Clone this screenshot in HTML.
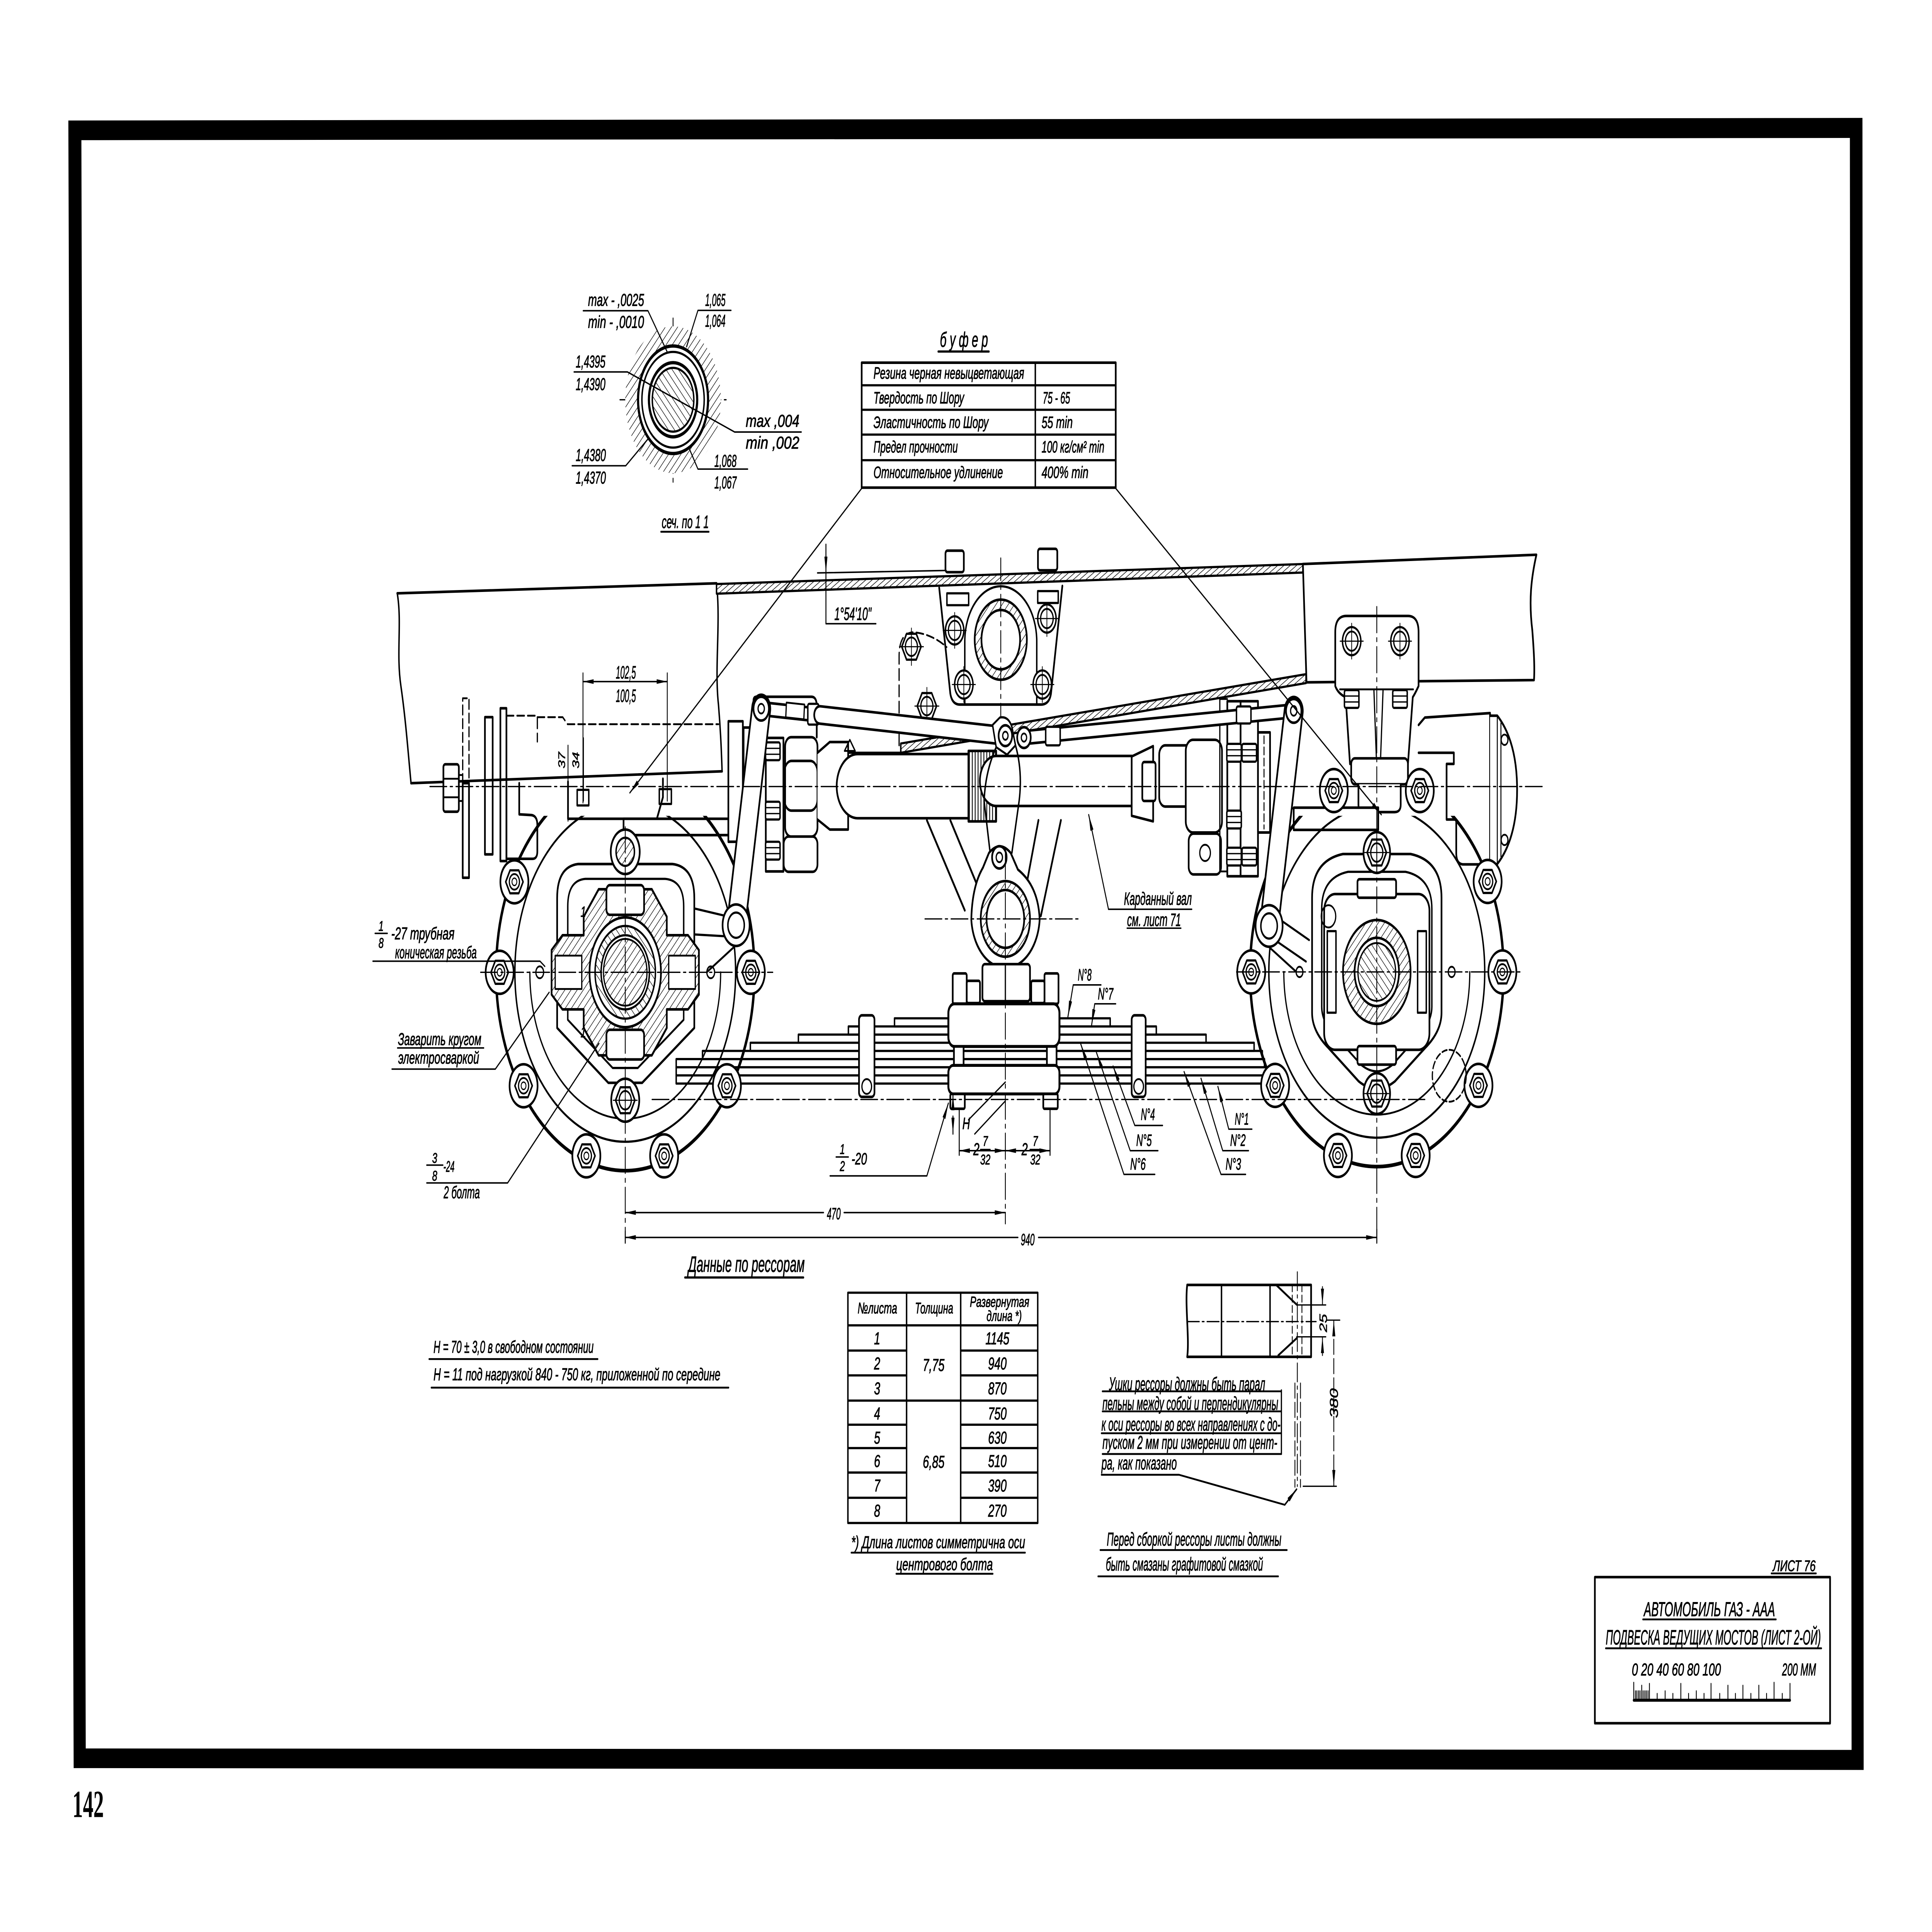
<!DOCTYPE html>
<html><head><meta charset="utf-8"><title>ГАЗ-ААА подвеска</title>
<style>
html,body{margin:0;padding:0;width:100%;height:100%;overflow:hidden;background:#fff}
svg{display:block;width:100vw;height:100vh}
.t{font-family:"Liberation Sans Narrow","Liberation Sans","DejaVu Sans Condensed",sans-serif;font-style:italic;fill:#000;stroke:#000;stroke-width:1.2}
.n{font-family:"Liberation Serif",serif;font-weight:bold;fill:#000;stroke:none}
</style></head><body>
<svg xmlns="http://www.w3.org/2000/svg" viewBox="0 0 8000 5210" preserveAspectRatio="none">
<defs>
<pattern id="h" width="18" height="18" patternUnits="userSpaceOnUse" patternTransform="rotate(45)"><rect width="18" height="18" fill="#fff"/><line x1="0" y1="0" x2="0" y2="18" stroke="#000" stroke-width="3.5"/></pattern>
<pattern id="h2" width="18" height="18" patternUnits="userSpaceOnUse" patternTransform="rotate(-45)"><rect width="18" height="18" fill="#fff"/><line x1="0" y1="0" x2="0" y2="18" stroke="#000" stroke-width="3.5"/></pattern>
<pattern id="hs" width="13" height="13" patternUnits="userSpaceOnUse" patternTransform="rotate(60)"><rect width="13" height="13" fill="#fff"/><line x1="0" y1="0" x2="0" y2="13" stroke="#000" stroke-width="3.5"/></pattern>
<pattern id="vs" width="12" height="12" patternUnits="userSpaceOnUse"><rect width="12" height="12" fill="#fff"/><line x1="6" y1="0" x2="6" y2="12" stroke="#000" stroke-width="3.5"/></pattern>
<marker id="ar" viewBox="0 0 10 10" refX="10" refY="5" markerWidth="44" markerHeight="14" markerUnits="userSpaceOnUse" orient="auto-start-reverse" preserveAspectRatio="none"><path d="M0,0.5 L10,5 L0,9.5 Z" fill="#000"/></marker>
<g id="lug" stroke="#000" fill="none"><circle r="58" fill="#fff" stroke-width="7"/><polygon points="36,0 18,31 -18,31 -36,0 -18,-31 18,-31" stroke-width="6"/><circle r="21" stroke-width="5"/><circle r="10" stroke-width="3.5"/></g>
<g id="bolt" stroke="#000" fill="none"><circle r="38" fill="#fff" stroke-width="6"/><circle r="26" stroke-width="5"/><path d="M-48,0 L48,0 M0,-48 L0,48" stroke-width="3"/></g>
<g id="hn" stroke="#000" fill="#fff"><rect x="-30" y="-24" width="60" height="48" rx="6" stroke-width="6"/><path d="M-30,-8 L30,-8 M-30,8 L30,8" stroke-width="3.5" fill="none"/></g>
<g id="hex" stroke="#000" fill="#fff"><polygon points="40,0 20,35 -20,35 -40,0 -20,-35 20,-35" stroke-width="6"/><circle r="25" stroke-width="5" fill="none"/><path d="M-50,0 L50,0 M0,-50 L0,50" stroke-width="3" fill="none"/></g>
<clipPath id="cw"><rect x="0" y="2200" width="8000" height="3000"/></clipPath>
</defs>

<rect width="8000" height="5210" fill="#fff"/>
<!-- heavy sheet frame -->
<path fill="#000" fill-rule="evenodd" d="M283,325 L7712,318 L7717,4773 L305,4768 Z M337,378 L7660,372 L7667,4719 L355,4715 Z"/>

<g fill="none" stroke="#000" stroke-width="7" stroke-linejoin="round" stroke-linecap="round">

<!-- ===== chassis rail ===== -->
<path d="M1645,1600 L2967,1573"/>
<path d="M1645,1600 C1665,1680 1640,1760 1660,1850 C1680,1940 1690,2030 1702,2112" stroke-width="6"/>
<path d="M1702,2112 L2990,2080"/>
<path d="M2967,1573 C2985,1680 2958,1800 2975,1900 C2985,1980 2988,2040 2990,2080" stroke-width="6"/>
<polygon points="2967,1575 5395,1521 5395,1544 2967,1601" fill="url(#hs)" stroke-width="6"/>
<path d="M3385,1545 L3950,1538" stroke-width="4"/>
<path d="M5395,1521 L6362,1496 C6340,1560 6330,1620 6345,1700 C6352,1760 6355,1800 6352,1834 L5410,1840 Z"/>
<polygon points="3730,2005 5408,1818 5408,1842 3730,2030" fill="url(#hs)" stroke-width="6"/>
<path d="M3060,2030 L3730,2030" stroke-width="6"/>

<!-- centre frame bracket -->
<path d="M3889,1585 L3935,1870 Q3942,1900 3975,1900 L4310,1900 Q4345,1900 4352,1870 L4399,1580" fill="#fff"/>
<path d="M3995,1897 L3995,1730 A149,149 0 0 1 4293,1730 L4293,1897" stroke-width="6"/>
<circle cx="4144" cy="1725" r="108" fill="url(#h)"/>
<circle cx="4144" cy="1725" r="80" fill="#fff"/>
<use href="#bolt" x="3953" y="1700"/><use href="#bolt" x="4335" y="1668"/>
<use href="#bolt" x="3991" y="1846"/><use href="#bolt" x="4316" y="1846"/>
<rect x="3915" y="1485" width="76" height="58" rx="8" fill="#fff"/>
<rect x="4298" y="1480" width="80" height="58" rx="8" fill="#fff"/>
<rect x="3921" y="1600" width="90" height="32" fill="#fff" stroke-width="6"/>
<rect x="4297" y="1594" width="85" height="32" fill="#fff" stroke-width="6"/>
<path d="M3723,2010 L3723,1770 Q3723,1705 3785,1705 Q3860,1710 3920,1745" stroke-dasharray="30 14" stroke-width="5"/>
<use href="#hex" x="3774" y="1744"/>
<use href="#hex" x="3838" y="1904"/>
<path d="M4144,1505 L4144,1950" stroke-width="3.5" stroke-dasharray="60 14 10 14"/>

<!-- ===== left axle housing ===== -->
<path d="M1916,2112 L1916,1883 L1942,1883 L1942,2112" stroke-dasharray="25 12" stroke-width="5"/>
<rect x="1916" y="2112" width="26" height="255"/>
<rect x="1836" y="2061" width="64" height="128" rx="8" fill="#fff"/>
<path d="M1836,2100 L1900,2100 M1836,2150 L1900,2150" stroke-width="5"/>
<rect x="1900" y="2090" width="16" height="70" stroke-width="5"/>
<rect x="2008" y="1934" width="32" height="370"/>
<rect x="2072" y="1910" width="25" height="412"/>
<path d="M2097,2112 L2097,2316 L2205,2316 Q2225,2316 2225,2296 L2225,2225 Q2225,2200 2200,2198 L2150,2196 L2150,2112"/>
<path d="M2097,1930 L2225,1930 L2225,2000 M2225,1934 L2330,1934 L2350,1953 L2975,1953" stroke-dasharray="30 14" stroke-width="5"/>
<path d="M2352,2108 L2352,2208 L2720,2208 L2745,2150 L2745,2100"/>
<rect x="2390" y="2130" width="48" height="42" stroke-width="6"/>
<rect x="2730" y="2128" width="50" height="40" stroke-width="6"/>
<rect x="2582" y="2208" width="434" height="44" fill="#fff"/>

<!-- left UJ / flange -->
<rect x="3016" y="1945" width="60" height="325" fill="#fff"/>
<rect x="3079" y="1962" width="38" height="292" fill="#fff"/>
<path d="M3120,1988 L3120,1890 Q3120,1879 3132,1879 L3360,1879 Q3382,1879 3382,1905 L3382,1988" fill="#fff"/>
<rect x="3171" y="1990" width="73" height="360" fill="#fff"/>
<use href="#hn" x="3200" y="2026"/><use href="#hn" x="3200" y="2186"/><use href="#hn" x="3200" y="2294"/>
<rect x="3251" y="1988" width="134" height="268" rx="25" fill="#fff"/>
<rect x="3248" y="2052" width="137" height="134" rx="30"/>
<rect x="3245" y="2256" width="140" height="95" rx="20" fill="#fff"/>
<path d="M3385,2030 L3436,2001 L3512,2001 L3512,2237 L3436,2237 L3385,2210" fill="#fff"/>
<rect x="3493" y="2071" width="58" height="102" rx="8" fill="#fff"/>
<path d="M3519,1995 l-22,30 l44,0 z" stroke-width="5"/>
<!-- shaft -->
<line x1="3551" y1="2120" x2="4010" y2="2120" stroke-width="180"/>
<line x1="3551" y1="2120" x2="4010" y2="2120" stroke="#fff" stroke-width="166"/>
<rect x="4010" y="2025" width="115" height="190" fill="url(#vs)"/>
<line x1="4125" y1="2106" x2="4686" y2="2106" stroke-width="142"/>
<line x1="4125" y1="2106" x2="4686" y2="2106" stroke="#fff" stroke-width="128"/>
<!-- right UJ -->
<path d="M4686,2040 L4686,2200 L4775,2215 L4775,2012 Z" fill="#fff"/>
<rect x="4730" y="2055" width="55" height="105" rx="8" fill="#fff"/>
<rect x="4800" y="2010" width="150" height="165" rx="25" fill="#fff"/>
<rect x="4910" y="1995" width="150" height="250" rx="30" fill="#fff"/>
<rect x="4922" y="2248" width="134" height="110" rx="20" fill="#fff"/>
<circle cx="4990" cy="2300" r="22" stroke-width="5"/>
<rect x="5082" y="1891" width="55" height="472" fill="#fff"/>
<rect x="5137" y="1891" width="72" height="472" fill="#fff"/>
<use href="#hn" x="5110" y="2030"/><use href="#hn" x="5110" y="2210"/><use href="#hn" x="5110" y="2310"/>
<use href="#hn" x="5173" y="2030"/><use href="#hn" x="5173" y="2310"/>
<rect x="5209" y="1975" width="50" height="270" fill="#fff"/>
<path d="M5234,1985 L5234,2235" stroke-width="4" stroke-dasharray="20 10"/>
<path d="M5051,1885 L5051,2350 L5082,2350 M5051,1885 L5082,1885" stroke-width="5"/>

<!-- right housing -->
<path d="M5874,1955 L5900,1935 L6170,1923 L6170,2331 L6060,2331 Q6030,2331 6030,2300 L6030,2210 L5990,2210 L5990,2060 L6020,2060 L6020,2030 L5874,2030" fill="#fff"/>
<path d="M6170,1930 L6200,1930 Q6282,2000 6282,2130 Q6282,2260 6200,2330 L6170,2330" fill="#fff"/>
<path d="M6200,1935 L6200,2325 M6215,1950 L6215,2310" stroke-width="4"/>
<circle cx="6230" cy="1995" r="14" stroke-width="5"/><circle cx="6230" cy="2265" r="14" stroke-width="5"/>
<!-- spring hanger -->
<path d="M5529,1705 Q5529,1661 5575,1661 L5830,1661 Q5874,1661 5874,1705 L5874,1850 Q5860,1870 5850,1880 L5830,2060 L5590,2060 L5572,1880 Q5540,1870 5529,1850 Z" fill="#fff"/>
<path d="M5548,1859 L5852,1859 M5689,1859 L5700,2057 M5727,1859 L5716,2057" stroke-width="5"/>
<use href="#bolt" x="5597" y="1729"/>
<use href="#bolt" x="5797" y="1729"/>
<use href="#hn" x="5597" y="1885"/><use href="#hn" x="5797" y="1885"/>
<rect x="5595" y="2045" width="235" height="70" rx="15" fill="#fff"/>
<path d="M5625,2115 L5625,2170 Q5625,2190 5650,2190 L5775,2190 Q5800,2190 5800,2170 L5800,2115" fill="#fff"/>
<rect x="5357" y="2178" width="350" height="60" fill="#fff"/>
<path d="M5320,2155 L5320,2180 L5357,2180" stroke-width="5"/>

<!-- ===== torque rods ===== -->
<line x1="3180" y1="1913" x2="3390" y2="1928" stroke-width="42"/>
<line x1="3180" y1="1913" x2="3390" y2="1928" stroke="#fff" stroke-width="28"/>
<rect x="3255" y="1897" width="75" height="40" fill="#fff" stroke-width="5" transform="rotate(4 3290 1917)"/>
<rect x="3345" y="1898" width="45" height="56" rx="6" fill="#fff" stroke-width="6"/>
<line x1="3395" y1="1928" x2="4130" y2="1982" stroke-width="54"/>
<line x1="3395" y1="1928" x2="4130" y2="1982" stroke="#fff" stroke-width="40"/>
<line x1="4240" y1="1989" x2="5357" y2="1917" stroke-width="42"/>
<line x1="4240" y1="1989" x2="5357" y2="1917" stroke="#fff" stroke-width="28"/>
<rect x="4330" y="1960" width="60" height="50" rx="6" fill="#fff" stroke-width="6"/>
<rect x="5120" y="1905" width="60" height="46" rx="6" fill="#fff" stroke-width="6"/>
<path d="M4110,1955 L4140,1935 Q4175,1930 4190,1960 L4205,2010 L4170,2035 L4125,2015 Z" fill="#fff" stroke-width="6"/>
<circle cx="4163" cy="1984" r="28" fill="#fff"/><circle cx="4163" cy="1984" r="11" stroke-width="5"/>
<circle cx="4240" cy="1989" r="28" fill="#fff"/><circle cx="4240" cy="1989" r="11" stroke-width="5"/>
<path d="M4100,2300 L4075,2160 Q4080,2080 4125,2015 M4190,2300 L4220,2160 Q4235,2080 4205,2010" stroke-width="6"/>

<!-- ===== leaf spring ===== -->
<g fill="#fff" stroke-width="6">
<rect x="2800" y="2900" width="2454" height="22"/>
<rect x="2800" y="2878" width="2445" height="22"/>
<rect x="2800" y="2856" width="2436" height="22"/>
<rect x="2909" y="2834" width="2318" height="22"/>
<rect x="3107" y="2812" width="2086" height="22"/>
<rect x="3306" y="2790" width="1688" height="22"/>
<rect x="3513" y="2768" width="1275" height="22"/>
<rect x="3704" y="2746" width="893" height="22"/>
</g>
<rect x="3557" y="2738" width="64" height="220" rx="12" fill="#fff"/>
<circle cx="3589" cy="2930" r="20" stroke-width="5"/>
<rect x="4686" y="2738" width="58" height="220" rx="12" fill="#fff"/>
<circle cx="4715" cy="2930" r="20" stroke-width="5"/>

<!-- trunnion bracket -->
<path d="M3838,2212 L3995,2455 M3935,2212 L4045,2385 M4393,2212 L4310,2470 M4300,2212 L4255,2370"/>
<path d="M4022,2480 Q4025,2390 4070,2340 L4095,2300 Q4140,2265 4185,2300 L4215,2345 Q4300,2390 4305,2480 A142,142 0 0 1 4022,2480 Z" fill="#fff"/>
<circle cx="4163" cy="2478" r="102" fill="url(#h)"/>
<circle cx="4163" cy="2478" r="78" fill="#fff"/>
<circle cx="4138" cy="2312" r="30" fill="#fff"/><circle cx="4138" cy="2312" r="13" stroke-width="5"/>
<rect x="4068" y="2600" width="197" height="100" rx="10" fill="#fff"/>
<path d="M4163,2600 L4163,2700" stroke-width="5"/>
<rect x="3945" y="2625" width="58" height="82" rx="6" fill="#fff"/>
<rect x="4003" y="2645" width="55" height="60" rx="6" fill="#fff"/>
<rect x="4325" y="2625" width="58" height="82" rx="6" fill="#fff"/>
<rect x="4270" y="2645" width="55" height="60" rx="6" fill="#fff"/>
<rect x="3927" y="2707" width="460" height="115" rx="25" fill="#fff" stroke-width="8"/>
<rect x="3950" y="2822" width="40" height="51" fill="#fff"/>
<rect x="4335" y="2822" width="40" height="51" fill="#fff"/>
<rect x="3927" y="2873" width="460" height="77" rx="20" fill="#fff" stroke-width="8"/>
<rect x="3935" y="2950" width="60" height="40" rx="5" fill="#fff"/>
<rect x="4320" y="2950" width="60" height="40" rx="5" fill="#fff"/>

<!-- ===== wheels (brake drums) ===== -->
<g clip-path="url(#cw)">
<circle cx="2589" cy="2622" r="535" stroke-width="10"/>
<circle cx="2589" cy="2622" r="457" stroke-width="6"/>
<circle cx="5701" cy="2621" r="525" stroke-width="10"/>
<circle cx="5701" cy="2621" r="447" stroke-width="6"/>
</g>
<path d="M2194,2622 A395,395 0 0 0 2984,2622" stroke-width="5"/>
<path d="M5316,2621 A385,385 0 0 0 6086,2621" stroke-width="5"/>
<use href="#lug" x="3109" y="2622"/><use href="#lug" x="3010" y="2928"/><use href="#lug" x="2750" y="3117"/>
<use href="#lug" x="2428" y="3117"/><use href="#lug" x="2168" y="2928"/><use href="#lug" x="2069" y="2622"/>
<use href="#lug" x="2130" y="2378"/>
<use href="#lug" x="6221" y="2621"/><use href="#lug" x="6160" y="2377"/><use href="#lug" x="6122" y="2927"/>
<use href="#lug" x="5862" y="3116"/><use href="#lug" x="5540" y="3116"/><use href="#lug" x="5280" y="2927"/>
<use href="#lug" x="5181" y="2621"/><use href="#lug" x="5523" y="2132"/><use href="#lug" x="5879" y="2132"/>

<!-- left hub -->
<g transform="translate(2589,2622)">
<path d="M-282,-200 Q-282,-285 -195,-292 L195,-292 Q286,-285 286,-200 L286,150 L70,298 L-70,298 L-282,150 Z" fill="#fff"/>
<path d="M-238,-178 Q-238,-248 -165,-252 L165,-252 Q242,-248 242,-178 L242,128 L52,258 L-52,258 L-238,128 Z" stroke-width="6"/>
<circle cy="-325" r="60" fill="#fff"/>
<circle cy="-325" r="38" fill="url(#h)" stroke-width="6"/>
<circle cy="345" r="58" fill="#fff"/>
<use href="#hex" y="345"/>
<polygon points="-305,-60 -260,-100 -172,-100 -172,-150 -110,-224 110,-224 172,-150 172,-100 260,-100 305,-60 305,60 260,100 172,100 172,150 110,224 -110,224 -172,150 -172,100 -260,100 -305,60" fill="url(#h)"/>
<rect x="-78" y="-235" width="156" height="80" rx="14" fill="#fff"/>
<rect x="-78" y="155" width="156" height="80" rx="14" fill="#fff"/>
<rect x="-290" y="-45" width="110" height="90" fill="#fff" stroke-width="5"/>
<rect x="180" y="-45" width="110" height="90" fill="#fff" stroke-width="5"/>
<circle r="148" fill="#fff"/>
<circle r="125" fill="url(#h2)" stroke-width="6"/>
<circle r="100" fill="#fff" stroke-width="6"/>
<circle r="90" fill="url(#h)" stroke-width="5"/>
<circle cx="-354" r="16" stroke-width="5"/><circle cx="354" r="16" stroke-width="5"/>
<text class="t" x="-185" y="-150" font-size="40">1</text>
<text class="t" x="-185" y="175" font-size="40">1</text>
</g>

<!-- right hub -->
<g transform="translate(5701,2621)">
<path d="M-140,-318 L140,-318 Q268,-300 268,-200 L268,110 Q268,160 200,205 L75,295 Q0,335 -75,295 L-200,205 Q-268,160 -268,110 L-268,-200 Q-268,-300 -140,-318 Z" fill="#fff"/>
<path d="M-119,-270 L119,-270 Q228,-255 228,-170 L228,94 Q228,136 170,174 L64,251 Q0,285 -64,251 L-170,174 Q-228,136 -228,94 L-228,-170 Q-228,-255 -119,-270 Z" stroke-width="6"/>
<rect x="-218" y="-210" width="436" height="420" rx="45" fill="#fff"/>
<rect x="-205" y="-110" width="36" height="220" stroke-width="6"/>
<rect x="169" y="-110" width="36" height="220" stroke-width="6"/>
<rect x="-80" y="-250" width="160" height="50" rx="8" fill="#fff"/>
<rect x="-80" y="200" width="160" height="50" rx="8" fill="#fff"/>
<circle r="140" fill="url(#h)"/>
<circle r="92" fill="#fff"/>
<circle r="78" fill="url(#h2)" stroke-width="5"/>
<circle cy="-322" r="55" fill="#fff"/><use href="#hex" y="-322"/>
<circle cy="328" r="55" fill="#fff"/><use href="#hex" y="328"/>
<circle cx="-200" cy="-150" r="30" stroke-width="5"/>
<circle cx="300" cy="280" r="70" stroke-width="5" stroke-dasharray="20 10"/>
<circle cx="310" r="14" stroke-width="5"/><circle cx="-320" r="14" stroke-width="5"/>
</g>

<!-- ===== vertical links ===== -->
<line x1="3152" y1="1911" x2="3048" y2="2495" stroke-width="82"/>
<line x1="3152" y1="1911" x2="3048" y2="2495" stroke="#fff" stroke-width="68"/>
<path d="M3005,2470 L2876,2450 M3010,2525 L2876,2520 M3054,2545 L2926,2622" stroke-width="6"/>
<circle cx="3152" cy="1911" r="32" fill="#fff"/><circle cx="3152" cy="1911" r="13" stroke-width="5"/>
<circle cx="3048" cy="2495" r="56" fill="#fff"/><circle cx="3048" cy="2495" r="34" stroke-width="6"/>
<line x1="5357" y1="1917" x2="5255" y2="2497" stroke-width="82"/>
<line x1="5357" y1="1917" x2="5255" y2="2497" stroke="#fff" stroke-width="68"/>
<path d="M5300,2480 L5421,2535 M5290,2540 L5408,2593 M5240,2545 L5363,2618" stroke-width="6"/>
<circle cx="5357" cy="1917" r="32" fill="#fff"/><circle cx="5357" cy="1917" r="13" stroke-width="5"/>
<circle cx="5255" cy="2497" r="56" fill="#fff"/><circle cx="5255" cy="2497" r="34" stroke-width="6"/>

<!-- ===== centre lines ===== -->
<g stroke-width="3.5" stroke-dasharray="70 14 10 14">
<path d="M1780,2121 L6400,2121"/>
<path d="M1990,2622 L3200,2622"/>
<path d="M5120,2621 L6300,2621"/>
<path d="M2589,2230 L2589,3350"/>
<path d="M5701,1636 L5701,3350"/>
<path d="M4163,2300 L4163,3300"/>
<path d="M3830,2478 L4470,2478"/>
<path d="M2700,2965 L5900,2965"/>
<path d="M2787,858 L2787,1300"/>
<path d="M2567,1078 L3007,1078"/>
</g>

<!-- ===== dimensions / leaders ===== -->
<g stroke-width="4">
<path d="M3568,1317 L2608,2138" marker-end="url(#ar)"/>
<path d="M4620,1317 L5720,2197" marker-end="url(#ar)"/>
<path d="M2414,1815 L2414,2165 M2763,1815 L2763,2160" stroke-width="3.5"/>
<path d="M2414,1838 L2763,1838" marker-start="url(#ar)" marker-end="url(#ar)"/>
<path d="M2352,2010 L2352,2214 M2416,1990 L2416,2160" stroke-width="3.5"/>
<path d="M3420,1468 L3420,1545" marker-end="url(#ar)"/>
<path d="M3420,1545 L3420,1682 L3627,1682"/>
<path d="M1544,2592 L2236,2592 L2256,2606"/>
<path d="M1646,2826 L2003,2826"/>
<path d="M1623,2883 L2051,2883 L2274,2676"/>
<path d="M1767,3190 L2102,3190 L2480,2814"/>
<path d="M1767,3142 L1834,3142 M1553,2517 L1604,2517"/>
<path d="M3437,3171 L3838,3171 L3927,2975" marker-end="url(#ar)"/>
<path d="M3462,3120 L3513,3120"/>
<path d="M4590,2452 L4508,2197" marker-end="url(#ar)"/>
<path d="M4590,2452 L4935,2452 M4667,2503 L4890,2503"/>
<path d="M4444,2656 L4559,2656 M4444,2656 L4422,2742" marker-end="url(#ar)"/>
<path d="M4533,2707 L4620,2707 M4533,2707 L4520,2765" marker-end="url(#ar)"/>
<path d="M4699,3035 L4814,3035 M4699,3035 L4609,2875" marker-end="url(#ar)"/>
<path d="M4680,3103 L4795,3103 M4680,3103 L4540,2838" marker-end="url(#ar)"/>
<path d="M4654,3167 L4782,3167 M4654,3167 L4475,2815" marker-end="url(#ar)"/>
<path d="M5088,3045 L5184,3045 M5088,3045 L5043,2930" marker-end="url(#ar)"/>
<path d="M5063,3103 L5170,3103 M5063,3103 L4973,2908" marker-end="url(#ar)"/>
<path d="M5056,3167 L5158,3167 M5056,3167 L4903,2890" marker-end="url(#ar)"/>
<path d="M4010,3020 L4163,2918 M4036,3058 L4163,2969"/>
<path d="M3946,2990 L3946,2950" marker-end="url(#ar)"/>
<path d="M3946,3010 L3946,3058" marker-end="url(#ar)"/>
<path d="M3972,2990 L3972,3115 M4348,2990 L4348,3115"/>
<path d="M3972,3103 L4163,3103" marker-start="url(#ar)" marker-end="url(#ar)"/>
<path d="M4163,3103 L4348,3103" marker-start="url(#ar)" marker-end="url(#ar)"/>
<path d="M4060,3100 L4100,3100 M4265,3100 L4305,3100"/>
<path d="M2589,3270 L3410,3270" marker-start="url(#ar)"/>
<path d="M3495,3270 L4163,3270" marker-end="url(#ar)"/>
<path d="M2589,3337 L4215,3337" marker-start="url(#ar)"/>
<path d="M4300,3337 L5701,3337" marker-end="url(#ar)"/>
<path d="M2589,3320 L2589,3352 M5701,3315 L5701,3352"/>
</g>

<!-- ===== cross-section 1-1 ===== -->
<g transform="translate(2787,1078)">
<circle r="198" fill="url(#h)" stroke="none"/>
<circle r="145" fill="#fff" stroke-width="9"/>
<circle r="129" stroke-width="6"/>
<circle r="100" fill="#fff" stroke-width="9"/>
<circle r="86" fill="url(#h2)" stroke-width="6"/>
</g>
<g stroke-width="4">
<path d="M2415,838 L2683,838 L2762,948"/>
<path d="M3027,837 L2890,837 L2843,935"/>
<path d="M2377,1003 L2598,1003 L3042,1165 L3318,1165"/>
<path d="M2369,1256 L2591,1256 L2683,1184"/>
<path d="M3096,1265 L2890,1265 L2851,1205"/>
<path d="M2737,1434 L2935,1434" stroke-width="5"/>
</g>

<!-- buffer table -->
<rect x="3568" y="978" width="1052" height="337"/>
<path d="M4287,978 L4287,1315 M3568,1039 L4620,1039 M3568,1105 L4620,1105 M3568,1172 L4620,1172 M3568,1241 L4620,1241" stroke-width="6"/>
<path d="M3885,948 L4095,948" stroke-width="6"/>

<!-- spring data table -->
<rect x="3511" y="3486" width="786" height="621" stroke-width="6"/>
<path d="M3754,3486 L3754,4107 M3978,3486 L3978,4107 M3511,3574 L4297,3574 M3511,3777 L4297,3777" stroke-width="6"/>
<path d="M3511,3642 L3754,3642 M3511,3709 L3754,3709 M3511,3842 L3754,3842 M3511,3905 L3754,3905 M3511,3971 L3754,3971 M3511,4039 L3754,4039" stroke-width="6"/>
<path d="M3978,3642 L4297,3642 M3978,3709 L4297,3709 M3978,3842 L4297,3842 M3978,3905 L4297,3905 M3978,3971 L4297,3971 M3978,4039 L4297,4039" stroke-width="6"/>
<path d="M3525,4187 L4245,4187 M3711,4244 L4111,4244" stroke-width="5"/>
<path d="M2836,3445 L3327,3445" stroke-width="6"/>
<path d="M1777,3665 L2475,3665 M1786,3742 L3017,3742" stroke-width="5"/>

<!-- spring eye detail -->
<path d="M4916,3465 L5429,3465 L5429,3659 L4916,3659 C4926,3610 4906,3520 4916,3465 Z"/>
<path d="M5058,3465 L5058,3659 M5259,3465 L5259,3659 M5284,3465 L5369,3518 M5293,3655 L5369,3609" stroke-width="6"/>
<path d="M5351,3465 L5351,3659 M5391,3465 L5391,3659" stroke-width="3.5" stroke-dasharray="18 10"/>
<path d="M4916,3564 L5450,3564 M5372,3430 L5372,4008" stroke-width="3.5" stroke-dasharray="50 12 8 12"/>
<path d="M5362,3730 L5362,4010 M5385,3730 L5385,4010" stroke-width="3.5" stroke-dasharray="40 12"/>
<path d="M5369,3519 L5490,3519 M5369,3605 L5490,3605" stroke-width="3.5"/>
<path d="M5476,3470 L5476,3519" stroke-width="3.5" marker-end="url(#ar)"/>
<path d="M5476,3655 L5476,3605" stroke-width="3.5" marker-end="url(#ar)"/>
<path d="M5494,3560 L5548,3560 M5396,4008 L5534,4008" stroke-width="3.5"/>
<path d="M5523,3560 L5523,4008" stroke-width="3.5" stroke-dasharray="40 12" marker-start="url(#ar)" marker-end="url(#ar)"/>
<path d="M4565,3752 L5306,3752 M4565,3806 L5306,3806 M4561,3865 L5306,3865 M4565,3921 L5306,3921 M5306,3749 L5306,3921" stroke-width="5"/>
<path d="M4561,3977 L4882,3977 L5320,4058" stroke-width="5"/>
<path d="M5320,4058 L5369,4016" stroke-width="5" marker-end="url(#ar)"/>
<path d="M4556,4180 L5329,4180 M4547,4251 L5293,4251" stroke-width="5"/>

<!-- title block -->
<rect x="6604" y="4253" width="974" height="394" stroke-width="7"/>
<path d="M7335,4243 L7520,4243 M6803,4367 L7354,4367 M6649,4445 L7542,4445" stroke-width="5"/>
<path d="M6765,4585 L7412,4585" stroke-width="8"/>
<path d="M6765,4537 L6765,4585 M6772,4560 L6772,4585 M6778,4560 L6778,4585 M6785,4560 L6785,4585 M6791,4560 L6791,4585 M6798,4545 L6798,4585 M6804,4560 L6804,4585 M6811,4560 L6811,4585 M6817,4560 L6817,4585 M6824,4560 L6824,4585 M6830,4540 L6830,4585" stroke-width="3.5"/>
<path d="M6862,4567 L6862,4585 M6895,4560 L6895,4585 M6927,4567 L6927,4585 M6960,4540 L6960,4585 M6992,4567 L6992,4585 M7024,4560 L7024,4585 M7056,4567 L7056,4585 M7085,4540 L7085,4585 M7121,4567 L7121,4585 M7155,4545 L7155,4585 M7186,4567 L7186,4585 M7217,4545 L7217,4585 M7250,4567 L7250,4585 M7283,4545 L7283,4585 M7315,4567 L7315,4585 M7346,4537 L7346,4585 M7380,4567 L7380,4585 M7412,4540 L7412,4585" stroke-width="3.5"/>
</g>

<!-- ===== texts ===== -->
<g>
<text class="t" x="2435" y="825" font-size="46" textLength="232" lengthAdjust="spacingAndGlyphs">max - ,0025</text>
<text class="t" x="2435" y="884" font-size="46" textLength="232" lengthAdjust="spacingAndGlyphs">min - ,0010</text>
<text class="t" x="2920" y="825" font-size="46" textLength="84" lengthAdjust="spacingAndGlyphs">1,065</text>
<text class="t" x="2920" y="881" font-size="46" textLength="84" lengthAdjust="spacingAndGlyphs">1,064</text>
<text class="t" x="2384" y="991" font-size="46" textLength="123" lengthAdjust="spacingAndGlyphs">1,4395</text>
<text class="t" x="2384" y="1052" font-size="46" textLength="123" lengthAdjust="spacingAndGlyphs">1,4390</text>
<text class="t" x="2384" y="1243" font-size="46" textLength="125" lengthAdjust="spacingAndGlyphs">1,4380</text>
<text class="t" x="2384" y="1304" font-size="46" textLength="125" lengthAdjust="spacingAndGlyphs">1,4370</text>
<text class="t" x="3088" y="1151" font-size="46" textLength="222" lengthAdjust="spacingAndGlyphs">max  ,004</text>
<text class="t" x="3088" y="1210" font-size="46" textLength="222" lengthAdjust="spacingAndGlyphs">min  ,002</text>
<text class="t" x="2958" y="1259" font-size="46" textLength="92" lengthAdjust="spacingAndGlyphs">1,068</text>
<text class="t" x="2958" y="1317" font-size="46" textLength="92" lengthAdjust="spacingAndGlyphs">1,067</text>
<text class="t" x="2740" y="1424" font-size="48" textLength="195" lengthAdjust="spacingAndGlyphs">сеч. по 1 1</text>

<text class="t" x="3892" y="935" font-size="56" textLength="199" lengthAdjust="spacingAndGlyphs">б у ф е р</text>
<text class="t" x="3617" y="1021" font-size="44" textLength="624" lengthAdjust="spacingAndGlyphs">Резина черная невыцветающая</text>
<text class="t" x="3617" y="1088" font-size="44" textLength="375" lengthAdjust="spacingAndGlyphs">Твердость по Шору</text>
<text class="t" x="4318" y="1088" font-size="44" textLength="113" lengthAdjust="spacingAndGlyphs">75 - 65</text>
<text class="t" x="3617" y="1154" font-size="44" textLength="476" lengthAdjust="spacingAndGlyphs">Эластичность по Шору</text>
<text class="t" x="4313" y="1154" font-size="44" textLength="129" lengthAdjust="spacingAndGlyphs">55 min</text>
<text class="t" x="3617" y="1220" font-size="44" textLength="349" lengthAdjust="spacingAndGlyphs">Предел прочности</text>
<text class="t" x="4313" y="1220" font-size="44" textLength="260" lengthAdjust="spacingAndGlyphs">100 кг/см² min</text>
<text class="t" x="3617" y="1289" font-size="44" textLength="536" lengthAdjust="spacingAndGlyphs">Относительное удлинение</text>
<text class="t" x="4313" y="1289" font-size="44" textLength="194" lengthAdjust="spacingAndGlyphs">400% min</text>

<text class="t" x="3455" y="1672" font-size="48" textLength="153" lengthAdjust="spacingAndGlyphs">1°54'10"</text>
<text class="t" x="2550" y="1830" font-size="48" textLength="83" lengthAdjust="spacingAndGlyphs">102,5</text>
<text class="t" x="2550" y="1893" font-size="48" textLength="83" lengthAdjust="spacingAndGlyphs">100,5</text>
<text class="t" transform="translate(2340,2050) rotate(-90)" font-size="40" text-anchor="middle">37</text>
<text class="t" transform="translate(2398,2050) rotate(-90)" font-size="40" text-anchor="middle">34</text>

<text class="t" x="1578" y="2510" font-size="38" text-anchor="middle">1</text>
<text class="t" x="1578" y="2556" font-size="38" text-anchor="middle">8</text>
<text class="t" x="1620" y="2533" font-size="46" textLength="262" lengthAdjust="spacingAndGlyphs">-27  трубная</text>
<text class="t" x="1636" y="2584" font-size="46" textLength="338" lengthAdjust="spacingAndGlyphs">коническая резьба</text>
<text class="t" x="1648" y="2818" font-size="46" textLength="345" lengthAdjust="spacingAndGlyphs">Заварить кругом</text>
<text class="t" x="1649" y="2868" font-size="46" textLength="335" lengthAdjust="spacingAndGlyphs">электросваркой</text>
<text class="t" x="1800" y="3136" font-size="38" text-anchor="middle">3</text>
<text class="t" x="1800" y="3184" font-size="38" text-anchor="middle">8</text>
<text class="t" x="1836" y="3160" font-size="42" textLength="46" lengthAdjust="spacingAndGlyphs">-24</text>
<text class="t" x="1837" y="3231" font-size="46" textLength="150" lengthAdjust="spacingAndGlyphs">2 болта</text>

<text class="t" x="3488" y="3112" font-size="38" text-anchor="middle">1</text>
<text class="t" x="3488" y="3158" font-size="38" text-anchor="middle">2</text>
<text class="t" x="3526" y="3140" font-size="44" textLength="64" lengthAdjust="spacingAndGlyphs">-20</text>
<text class="t" x="3985" y="3045" font-size="44">H</text>
<text class="t" x="4030" y="3115" font-size="46">2</text>
<text class="t" x="4080" y="3090" font-size="38" text-anchor="middle">7</text>
<text class="t" x="4080" y="3140" font-size="38" text-anchor="middle">32</text>
<text class="t" x="4230" y="3115" font-size="46">2</text>
<text class="t" x="4287" y="3090" font-size="38" text-anchor="middle">7</text>
<text class="t" x="4287" y="3140" font-size="38" text-anchor="middle">32</text>

<text class="t" x="4654" y="2440" font-size="48" textLength="281" lengthAdjust="spacingAndGlyphs">Карданный вал</text>
<text class="t" x="4667" y="2497" font-size="48" textLength="223" lengthAdjust="spacingAndGlyphs">см. лист 71</text>
<text class="t" x="4463" y="2644" font-size="44" textLength="57" lengthAdjust="spacingAndGlyphs">N°8</text>
<text class="t" x="4546" y="2695" font-size="44" textLength="64" lengthAdjust="spacingAndGlyphs">N°7</text>
<text class="t" x="4724" y="3020" font-size="44" textLength="58" lengthAdjust="spacingAndGlyphs">N°4</text>
<text class="t" x="4705" y="3090" font-size="44" textLength="64" lengthAdjust="spacingAndGlyphs">N°5</text>
<text class="t" x="4680" y="3154" font-size="44" textLength="64" lengthAdjust="spacingAndGlyphs">N°6</text>
<text class="t" x="5113" y="3033" font-size="44" textLength="58" lengthAdjust="spacingAndGlyphs">N°1</text>
<text class="t" x="5094" y="3090" font-size="44" textLength="64" lengthAdjust="spacingAndGlyphs">N°2</text>
<text class="t" x="5075" y="3154" font-size="44" textLength="64" lengthAdjust="spacingAndGlyphs">N°3</text>

<text class="t" x="3424" y="3288" font-size="44" textLength="57" lengthAdjust="spacingAndGlyphs">470</text>
<text class="t" x="4227" y="3358" font-size="44" textLength="57" lengthAdjust="spacingAndGlyphs">940</text>

<text class="t" x="2850" y="3430" font-size="60" textLength="482" lengthAdjust="spacingAndGlyphs">Данные по рессорам</text>
<text class="t" x="1795" y="3648" font-size="46" textLength="663" lengthAdjust="spacingAndGlyphs">H = 70 ± 3,0 в свободном состоянии</text>
<text class="t" x="1795" y="3722" font-size="46" textLength="1188" lengthAdjust="spacingAndGlyphs">H = 11 под нагрузкой 840 - 750 кг, приложенной  по середине</text>

<text class="t" x="3551" y="3542" font-size="42" textLength="164" lengthAdjust="spacingAndGlyphs">№листа</text>
<text class="t" x="3789" y="3542" font-size="42" textLength="158" lengthAdjust="spacingAndGlyphs">Толщина</text>
<text class="t" x="4016" y="3524" font-size="40" textLength="246" lengthAdjust="spacingAndGlyphs">Развернутая</text>
<text class="t" x="4085" y="3562" font-size="40" textLength="146" lengthAdjust="spacingAndGlyphs">длина *)</text>
<g font-size="46" text-anchor="middle">
<text class="t" x="3632" y="3625">1</text><text class="t" x="3632" y="3693">2</text>
<text class="t" x="3632" y="3760">3</text><text class="t" x="3632" y="3828">4</text>
<text class="t" x="3632" y="3893">5</text><text class="t" x="3632" y="3956">6</text>
<text class="t" x="3632" y="4022">7</text><text class="t" x="3632" y="4090">8</text>
<text class="t" x="4130" y="3625">1145</text><text class="t" x="4130" y="3693">940</text>
<text class="t" x="4130" y="3760">870</text><text class="t" x="4130" y="3828">750</text>
<text class="t" x="4130" y="3893">630</text><text class="t" x="4130" y="3956">510</text>
<text class="t" x="4130" y="4022">390</text><text class="t" x="4130" y="4090">270</text>
<text class="t" x="3866" y="3697">7,75</text>
<text class="t" x="3866" y="3958">6,85</text>
</g>
<text class="t" x="3525" y="4175" font-size="46" textLength="720" lengthAdjust="spacingAndGlyphs">*) Длина листов симметрична оси</text>
<text class="t" x="3711" y="4234" font-size="46" textLength="400" lengthAdjust="spacingAndGlyphs">центрового болта</text>

<text class="t" transform="translate(5494,3568) rotate(-90)" font-size="44" text-anchor="middle">25</text>
<text class="t" transform="translate(5540,3784) rotate(-90)" font-size="48" text-anchor="middle">380</text>
<text class="t" x="4592" y="3749" font-size="50" textLength="647" lengthAdjust="spacingAndGlyphs">Ушки рессоры должны быть парал</text>
<text class="t" x="4565" y="3802" font-size="50" textLength="728" lengthAdjust="spacingAndGlyphs">пельны между собой и перпендикулярны</text>
<text class="t" x="4561" y="3858" font-size="50" textLength="741" lengthAdjust="spacingAndGlyphs">к оси рессоры во всех направлениях с до-</text>
<text class="t" x="4565" y="3907" font-size="50" textLength="724" lengthAdjust="spacingAndGlyphs">пуском  2 мм  при измерении от цент-</text>
<text class="t" x="4561" y="3963" font-size="50" textLength="312" lengthAdjust="spacingAndGlyphs">ра, как показано</text>
<text class="t" x="4583" y="4168" font-size="50" textLength="723" lengthAdjust="spacingAndGlyphs">Перед сборкой рессоры листы должны</text>
<text class="t" x="4579" y="4235" font-size="50" textLength="651" lengthAdjust="spacingAndGlyphs">быть смазаны графитовой смазкой</text>

<text class="t" x="7341" y="4237" font-size="42" textLength="177" lengthAdjust="spacingAndGlyphs">ЛИСТ  76</text>
<text class="t" x="6807" y="4358" font-size="54" textLength="543" lengthAdjust="spacingAndGlyphs">АВТОМОБИЛЬ   ГАЗ - ААА</text>
<text class="t" x="6649" y="4435" font-size="56" textLength="891" lengthAdjust="spacingAndGlyphs">ПОДВЕСКА  ВЕДУЩИХ  МОСТОВ (ЛИСТ 2-ОЙ)</text>
<text class="t" x="6757" y="4518" font-size="46" textLength="369" lengthAdjust="spacingAndGlyphs">0  20  40  60  80  100</text>
<text class="t" x="7379" y="4518" font-size="46" textLength="141" lengthAdjust="spacingAndGlyphs">200  ММ</text>
</g>

<text class="n" x="300" y="4900" font-size="104" textLength="130" lengthAdjust="spacingAndGlyphs">142</text>
</svg>
</body></html>
